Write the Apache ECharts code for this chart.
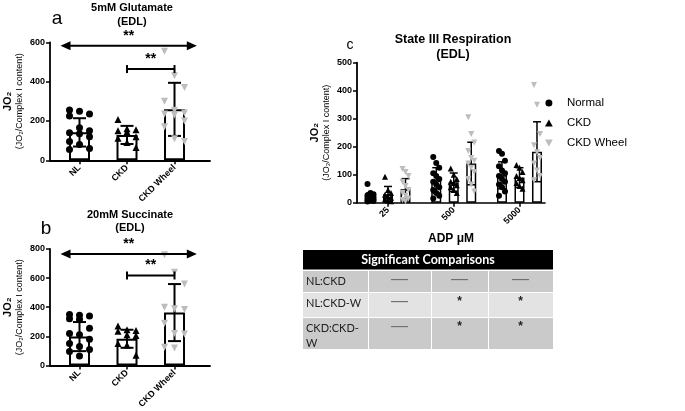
<!DOCTYPE html>
<html><head><meta charset="utf-8">
<script src="https://cdn.jsdelivr.net/npm/echarts@6/dist/echarts.min.js"></script>
<style>html,body{margin:0;padding:0;background:#fff}#c{width:685px;height:411px}</style>
</head><body><div id="c"></div>
<script>
// ---------- data ----------
const groupCats = ['NL', 'CKD', 'CKD Wheel'];
const glutMean = [142, 129, 259];
const glutSD = [72, 46, 135];
const glutNL = [256, 250, 235, 225, 165, 150, 140, 135, 120, 95, 80, 60, 55];
const glutCKD = [208, 160, 155, 150, 145, 120, 112, 90, 65];
const glutWheel = [555, 430, 370, 300, 255, 240, 235, 230, 200, 170, 110, 95];
const glutSig = [[0.6, 3.47, 583, 'arrow'], [2, 3, 464, 'bracket']];

const succMean = [198, 183, 363];
const succSD = [100, 62, 196];
const succNL = [350, 345, 340, 320, 315, 255, 220, 210, 180, 150, 130, 110, 95, 65];
const succCKD = [270, 245, 240, 235, 210, 205, 150, 140, 70];
const succWheel = [760, 640, 560, 400, 390, 385, 290, 220, 215, 125, 120];
const succSig = [[0.6, 3.47, 766, 'arrow'], [2, 3, 618, 'bracket']];

const adpCats = ['25', '500', '5000'];
const s3Names = ['Normal', 'CKD', 'CKD Wheel'];
const s3NormalMean = [21, 80, 98];
const s3NormalSD = [14, 45, 48];
const s3CKDMean = [30, 73, 90];
const s3CKDSD = [28, 33, 35];
const s3WheelMean = [48, 140, 182];
const s3WheelSD = [38, 76, 107];
const s3Normal25 = [67, 35, 30, 27, 24, 20, 18, 15, 12, 10, 8, 6, 4];
const s3Normal500 = [163, 142, 125, 105, 95, 85, 75, 65, 55, 45, 35, 25, 15];
const s3Normal5000 = [185, 175, 150, 130, 115, 105, 95, 85, 75, 65, 55, 40, 25];
const s3CKD25 = [93, 45, 35, 28, 22, 18, 12, 8, 5];
const s3CKD500 = [122, 100, 85, 75, 70, 62, 55, 45, 35];
const s3CKD5000 = [135, 125, 110, 95, 88, 80, 70, 60, 50];
const s3Wheel25 = [120, 110, 95, 75, 60, 45, 35, 25, 15, 10, 5];
const s3Wheel500 = [305, 245, 215, 185, 160, 150, 140, 125, 110, 85, 65, 40];
const s3Wheel5000 = [420, 350, 245, 205, 180, 160, 140, 115, 95, 80];

const tableTitle = 'Significant Comparisons';
const tableRowLabels = ['NL:CKD', 'NL:CKD-W', 'CKD:CKD-\nW'];
const tableMarks = [['—', '—', '—'], ['—', '*', '*'], ['—', '*', '*']];

// ---------- styling / layout ----------
const FONT = '"Liberation Sans", Arial, Helvetica, sans-serif';
const GRAY = '#bdbdbd';
const AB = { min: 0.379, max: 3.747, unit: 160 / (3.747 - 0.379) };
const C = { min: 0.5285, max: 3.388, unit: 188 / (3.388 - 0.5285) };

function xAxisDef(gi, cfg, cats, extra) {
  return Object.assign({
    type: 'value', gridIndex: gi, min: cfg.min, max: cfg.max,
    splitLine: { show: false },
    axisLine: { show: true, onZero: false, lineStyle: { color: '#000', width: 1.8 } },
    axisTick: { show: true, customValues: [1, 2, 3], length: 4, lineStyle: { color: '#000', width: 1.5 } },
    axisLabel: {
      customValues: [1, 2, 3], rotate: 45, fontFamily: FONT, fontWeight: 'bold', fontSize: 9,
      color: '#000', margin: 6, formatter: v => cats[Math.round(v) - 1] || ''
    }
  }, extra || {});
}
function yAxisDef(gi, max, interval, gap) {
  return {
    type: 'value', gridIndex: gi, min: 0, max, interval,
    splitLine: { show: false },
    axisLine: { show: true, lineStyle: { color: '#000', width: 1.8 } },
    axisTick: { show: true, length: 4, lineStyle: { color: '#000', width: 1.5 } },
    axisLabel: { fontFamily: FONT, fontWeight: 'bold', fontSize: 9, color: '#000', margin: 5 },
    name: '{a|JO₂}\n{b|(JO₂/Complex I content)}',
    nameLocation: 'middle', nameRotate: 90, nameGap: gap,
    nameTextStyle: {
      rich: {
        a: { fontFamily: FONT, fontWeight: 'bold', fontSize: 11, color: '#000', lineHeight: 13 },
        b: { fontFamily: FONT, fontSize: 9, color: '#000', lineHeight: 11 }
      }
    }
  };
}

function jitter(i) { const p = [-1, 0, 1]; return p[i % 3]; }

function barSeries(name, gi, means, bw, bwBorder, gap) {
  const s = {
    type: 'bar', name, xAxisIndex: gi, yAxisIndex: gi, z: 2, silent: true,
    data: means.map((m, i) => [i + 1, m]), barWidth: bw,
    itemStyle: { color: '#fff', borderColor: '#000', borderWidth: bwBorder }
  };
  if (gap) s.barGap = gap;
  return s;
}
function errSeries(gi, means, sds, pxOff, cap, lw) {
  return {
    type: 'custom', xAxisIndex: gi, yAxisIndex: gi, z: 4, silent: true,
    data: means.map((m, i) => [i + 1, m, sds[i]]),
    encode: { x: 0, y: 1 },
    renderItem(params, api) {
      const x = api.value(0), m = api.value(1), s = api.value(2);
      const t = api.coord([x, m + s]), b = api.coord([x, Math.max(0, m - s)]);
      const cx = t[0] + pxOff;
      const st = { stroke: '#000', lineWidth: lw };
      return {
        type: 'group', children: [
          { type: 'line', shape: { x1: cx, y1: t[1], x2: cx, y2: b[1] }, style: st },
          { type: 'line', shape: { x1: cx - cap / 2, y1: t[1], x2: cx + cap / 2, y2: t[1] }, style: st },
          { type: 'line', shape: { x1: cx - cap / 2, y1: b[1], x2: cx + cap / 2, y2: b[1] }, style: st }
        ]
      };
    }
  };
}
function ptSeries(name, gi, groups, cfg, pxOff, spread, symbol, color, size, down) {
  const data = [];
  groups.forEach((vals, g) => vals.forEach((v, i) => {
    data.push([g + 1 + (pxOff + jitter(i) * spread) / cfg.unit, v]);
  }));
  return {
    type: 'scatter', name, xAxisIndex: gi, yAxisIndex: gi, z: 5, silent: true,
    data, symbol, symbolSize: size, symbolRotate: down ? 180 : 0,
    itemStyle: { color, opacity: 1 }
  };
}
function sigSeries(gi, items) {
  return {
    type: 'custom', xAxisIndex: gi, yAxisIndex: gi, z: 6, silent: true, clip: false,
    data: items.map(d => [d[0], d[1], d[2], d[3] === 'arrow' ? 0 : 1]),
    encode: { x: [0, 1], y: 2 },
    renderItem(params, api) {
      const p1 = api.coord([api.value(0), api.value(2)]);
      const p2 = api.coord([api.value(1), api.value(2)]);
      const y = p1[1];
      const st = { stroke: '#000', lineWidth: 2 };
      const ch = [];
      if (api.value(3) === 0) {
        ch.push({ type: 'line', shape: { x1: p1[0] + 6, y1: y, x2: p2[0] - 6, y2: y }, style: st });
        ch.push({ type: 'polygon', shape: { points: [[p1[0], y], [p1[0] + 10, y - 4.5], [p1[0] + 10, y + 4.5]] }, style: { fill: '#000' } });
        ch.push({ type: 'polygon', shape: { points: [[p2[0], y], [p2[0] - 10, y - 4.5], [p2[0] - 10, y + 4.5]] }, style: { fill: '#000' } });
      } else {
        ch.push({ type: 'line', shape: { x1: p1[0], y1: y, x2: p2[0], y2: y }, style: st });
        ch.push({ type: 'line', shape: { x1: p1[0], y1: y - 4, x2: p1[0], y2: y + 4 }, style: st });
        ch.push({ type: 'line', shape: { x1: p2[0], y1: y - 4, x2: p2[0], y2: y + 4 }, style: st });
      }
      ch.push({
        type: 'text', x: (p1[0] + p2[0]) / 2, y: y - 3,
        style: { text: '**', align: 'center', verticalAlign: 'bottom', font: 'bold 14px ' + FONT, fill: '#000' }
      });
      return { type: 'group', children: ch };
    }
  };
}

// ---------- table graphic ----------
function tableGraphic() {
  const X0 = 303, X1 = 553, colX = [303, 368, 431, 488, 553];
  const rowY = [270, 292, 317, 349];
  const g = [];
  g.push({ type: 'rect', shape: { x: X0, y: 250, width: X1 - X0, height: 19.5 }, style: { fill: '#000' } });
  g.push({ type: 'text', x: (X0 + X1) / 2, y: 259.5, style: { text: tableTitle, align: 'center', verticalAlign: 'middle', font: 'bold 12.5px Lato, "Open Sans", sans-serif', fill: '#fff' } });
  tableRowLabels.forEach((lab, r) => {
    const fill = r === 1 ? '#e3e3e3' : '#cacaca';
    for (let c = 0; c < 4; c++) {
      g.push({ type: 'rect', shape: { x: colX[c] + (c ? 1 : 0), y: rowY[r] + 1, width: colX[c + 1] - colX[c] - (c ? 1 : 0), height: rowY[r + 1] - rowY[r] - 1 }, style: { fill } });
    }
    g.push({ type: 'text', x: 306, y: rowY[r] + 4, style: { text: lab, font: '11px Lato, "Open Sans", sans-serif', fill: '#222', lineHeight: 15 } });
    tableMarks[r].forEach((m, c) => {
      const cx = (colX[c + 1] + colX[c + 2]) / 2;
      if (m === '*') {
        g.push({ type: 'text', x: cx, y: rowY[r] + 4, style: { text: m, align: 'center', font: 'bold 12px ' + FONT, fill: '#222' } });
      } else {
        g.push({ type: 'text', x: cx, y: rowY[r] + 1, style: { text: m, align: 'center', font: '17px ' + FONT, fill: '#6e6e6e' } });
      }
    });
  });
  return g;
}

const txt = (x, y, text, font, align) => ({ type: 'text', x, y, style: { text, font, fill: '#000', align: align || 'center', verticalAlign: 'middle', lineHeight: 14 } });

const option = {
  backgroundColor: '#fff',
  animation: false,
  grid: [
    { left: 50, top: 42.3, width: 160, height: 118 },
    { left: 50, top: 249, width: 160, height: 118.7 },
    { left: 357, top: 62.7, width: 188, height: 140 }
  ],
  xAxis: [
    xAxisDef(0, AB, groupCats),
    xAxisDef(1, AB, groupCats),
    xAxisDef(2, C, adpCats, {
      name: 'ADP μM', nameLocation: 'middle', nameGap: 30,
      nameTextStyle: { fontFamily: FONT, fontWeight: 'bold', fontSize: 12, color: '#000' },
      axisLine: { show: true, onZero: false, lineStyle: { color: '#000', width: 1.6 } }
    })
  ],
  yAxis: [yAxisDef(0, 600, 200, 25), yAxisDef(1, 800, 200, 25), yAxisDef(2, 500, 100, 25)],
  legend: {
    orient: 'vertical', left: 540, top: 92, itemWidth: 26, itemHeight: 7, itemGap: 8,
    textStyle: { fontFamily: FONT, fontSize: 11.5, color: '#000' },
    data: [
      { name: 'Normal', icon: 'circle' },
      { name: 'CKD', icon: 'path://M5,0L10,9L0,9Z' },
      { name: 'CKD Wheel', icon: 'path://M0,0L10,0L5,9Z' }
    ],
    selectedMode: false
  },
  graphic: [
    txt(132, 8, '5mM Glutamate', 'bold 11px ' + FONT),
    txt(132, 22, '(EDL)', 'bold 11px ' + FONT),
    txt(57, 19, 'a', '19px ' + FONT),
    txt(130, 215, '20mM Succinate', 'bold 11px ' + FONT),
    txt(130, 228, '(EDL)', 'bold 11px ' + FONT),
    txt(46, 229, 'b', '19px ' + FONT),
    txt(453, 40, 'State III Respiration', 'bold 12.5px ' + FONT),
    txt(453, 55, '(EDL)', 'bold 12.5px ' + FONT),
    txt(350, 45, 'c', '14px ' + FONT)
  ].concat(tableGraphic()),
  series: [
    // panel a
    barSeries('Glutamate mean', 0, glutMean, 21, 2),
    errSeries(0, glutMean, glutSD, 0, 13, 2),
    ptSeries('Glutamate NL', 0, [glutNL, [], []], AB, 0, 10, 'circle', '#000', 7),
    ptSeries('Glutamate CKD', 0, [[], glutCKD, []], AB, 0, 9, 'triangle', '#000', 7),
    ptSeries('Glutamate CKD Wheel', 0, [[], [], glutWheel], AB, 0, 10, 'triangle', GRAY, 7, true),
    sigSeries(0, glutSig),
    // panel b
    barSeries('Succinate mean', 1, succMean, 21, 2),
    errSeries(1, succMean, succSD, 0, 13, 2),
    ptSeries('Succinate NL', 1, [succNL, [], []], AB, 0, 10, 'circle', '#000', 7),
    ptSeries('Succinate CKD', 1, [[], succCKD, []], AB, 0, 9, 'triangle', '#000', 7),
    ptSeries('Succinate CKD Wheel', 1, [[], [], succWheel], AB, 0, 10, 'triangle', GRAY, 7, true),
    sigSeries(1, succSig),
    // panel c
    barSeries('Normal mean', 2, s3NormalMean, 10, 1.5, '75%'),
    barSeries('CKD mean', 2, s3CKDMean, 10, 1.5, '75%'),
    barSeries('CKD Wheel mean', 2, s3WheelMean, 10, 1.5, '75%'),
    errSeries(2, s3NormalMean, s3NormalSD, -17.5, 8, 1.5),
    errSeries(2, s3CKDMean, s3CKDSD, 0, 8, 1.5),
    errSeries(2, s3WheelMean, s3WheelSD, 17.5, 8, 1.5),
    ptSeries('Normal', 2, [s3Normal25, s3Normal500, s3Normal5000], C, -17.5, 3, 'circle', '#000', 6),
    ptSeries('CKD', 2, [s3CKD25, s3CKD500, s3CKD5000], C, 0, 3, 'triangle', '#000', 6),
    ptSeries('CKD Wheel', 2, [s3Wheel25, s3Wheel500, s3Wheel5000], C, 17.5, 3, 'triangle', GRAY, 6, true)
  ]
};
const chart = echarts.init(document.getElementById('c'), null, { renderer: 'canvas' });
chart.setOption(option);
</script></body></html>
